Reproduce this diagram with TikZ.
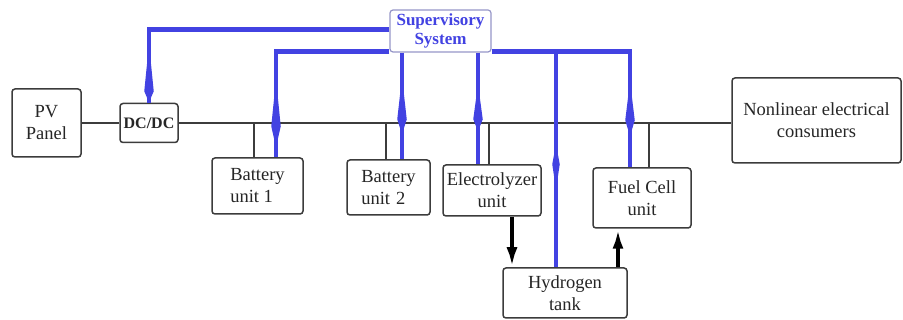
\documentclass[tikz,border=0pt]{standalone}
\usepackage{fontspec}
\setmainfont{Liberation Serif}
\usetikzlibrary{arrows.meta,calc}
\definecolor{ctrlblue}{RGB}{66,66,226}
\definecolor{linegray}{RGB}{60,60,60}
\definecolor{supframe}{RGB}{150,150,200}
\begin{document}
\begin{tikzpicture}[x=1pt,y=-1pt,
  box/.style={draw=linegray,line width=1.5pt,rounded corners=3pt,inner sep=0pt,fill=white,
    font=\fontsize{18.5}{22}\selectfont,text=black!85,align=center},
  bus/.style={draw=linegray,line width=2pt},
  stub/.style={draw=linegray,line width=1.5pt},
  ctrl/.style={draw=ctrlblue,line width=4.5pt},
  blob/.style 2 args={draw=ctrlblue,fill=ctrlblue,line width=4.5pt,
    -{Kite[length=#1,width=9.5pt,inset=#2,line width=0pt]}},
  flow/.style={draw=black,line width=4.5pt,-{Latex[length=20pt,width=11pt]}},
  ]
\useasboundingbox (0,0) rectangle (903,320);
% boxes
\node[box,minimum width=69,minimum height=68] (pv) at (46.5,123) {PV\\Panel};
\node[box,minimum width=58,minimum height=39,font=\fontsize{16}{18}\selectfont\bfseries] (dcdc) at (149,123) {DC/DC};
\node[box,draw=supframe,line width=1.2pt,minimum width=101,minimum height=42,
  font=\fontsize{17}{19}\selectfont\bfseries,text=ctrlblue] (sup) at (440.5,31) {Supervisory\\System};
\node[box,minimum width=91,minimum height=56,align=left] (bat1) at (257.5,186) {Battery\\unit 1};
\node[box,minimum width=83,minimum height=55,align=left] (bat2) at (388.5,187.5) {Battery\\unit\,\,2};
\node[box,minimum width=98,minimum height=51] (elec) at (492,190.5) {Electrolyzer\\unit};
\node[box,minimum width=98,minimum height=60] (fuel) at (642,198) {Fuel Cell\\unit};
\node[box,minimum width=124,minimum height=50] (tank) at (565,293) {Hydrogen\\tank};
\node[box,minimum width=169,minimum height=85] (load) at (816.5,120.5) {Nonlinear electrical\\consumers};
% power bus
\draw[bus] (pv.east) -- (pv.east -| dcdc.west);
\draw[bus] (dcdc.east) -- (dcdc.east -| load.west);
\coordinate (s1) at (254,123);
\coordinate (s2) at (386,123);
\coordinate (s3) at (489,123);
\coordinate (s4) at (649,123);
\draw[stub] (s1) -- (s1 |- bat1.north);
\draw[stub] (s2) -- (s2 |- bat2.north);
\draw[stub] (s3) -- (s3 |- elec.north);
\draw[stub] (s4) -- (s4 |- fuel.north);
% hydrogen flow
\coordinate (xe) at (512,0);
\coordinate (xf) at (618,0);
\draw[flow] (xe |- elec.south) -- (xe |- tank.north);
\draw[flow] (xf |- tank.north) -- (xf |- fuel.south);
% control lines
\coordinate (xb1) at (276,0);
\coordinate (xb2) at (402,0);
\coordinate (xel) at (478,0);
\coordinate (xht) at (556,0);
\coordinate (xfc) at (630,0);
\coordinate (eA) at (dcdc.north);
\coordinate (eB) at (xb1 |- bat1.north);
\coordinate (eC) at (xb2 |- bat2.north);
\coordinate (eD) at (xel |- elec.north);
\coordinate (eE) at (xfc |- fuel.north);
\coordinate (eF) at (xht |- tank.north);
\draw[ctrl] ([yshift=1.5pt]sup.west) -| (eA);
\draw[ctrl] ([yshift=1pt]sup.south west) -| (eB);
\draw[ctrl] (xb2 |- sup.south) -- (eC);
\draw[ctrl] (xel |- sup.south) -- (eD);
\draw[ctrl] ([yshift=1pt]sup.south east) -| (eE);
\draw[ctrl,line width=4pt] (eF) -- (xht |- sup.south);
% control arrow heads
\draw[blob={58pt}{47pt}] ($(eA)+(0,-58.5)$) -- ($(eA)+(0,-0.5)$);
\draw[blob={68pt}{47pt}] ($(eB)+(0,-78)$) -- ($(eB)+(0,-10)$);
\draw[blob={57pt}{42pt}] ($(eC)+(0,-82)$) -- ($(eC)+(0,-25)$);
\draw[blob={47pt}{35pt}] ($(eD)+(0,-80)$) -- ($(eD)+(0,-33)$);
\draw[blob={55pt}{39pt}] ($(eE)+(0,-86)$) -- ($(eE)+(0,-31)$);
\draw[draw=ctrlblue,fill=ctrlblue,line width=4pt,
  -{Kite[length=45pt,width=7.5pt,inset=25pt,line width=0pt]}] ($(eF)+(0,-78)$) -- ($(eF)+(0,-123)$);
\end{tikzpicture}
\end{document}
